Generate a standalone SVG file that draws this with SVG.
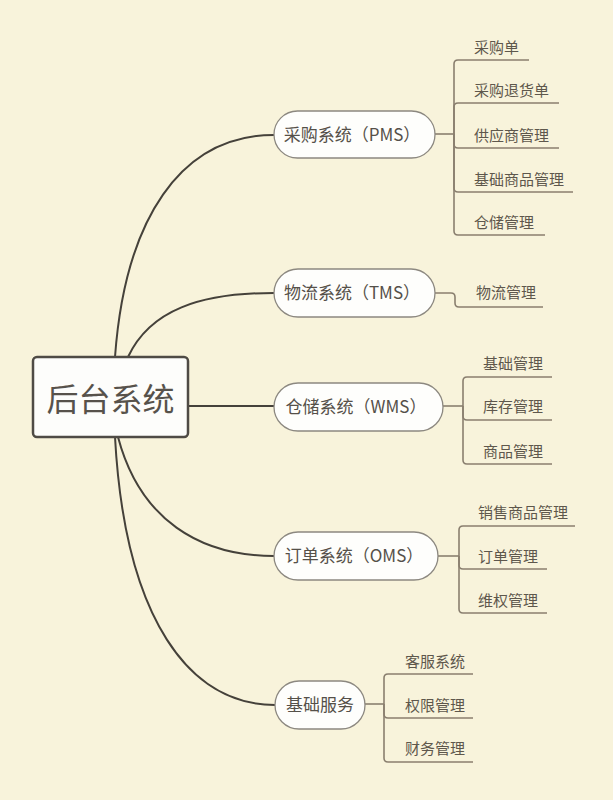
<svg xmlns="http://www.w3.org/2000/svg" width="613" height="800" viewBox="0 0 613 800">
<style>
.main{fill:none;stroke:#45413a;stroke-width:2}
.br{fill:none;stroke:#8a7f6f;stroke-width:1.6}
.pill{fill:#fefefc;stroke:#8c8880;stroke-width:1.3}
.nt{font-family:"Noto Sans CJK TC","Noto Sans CJK SC","Noto Sans",sans-serif;font-size:17px;fill:#555049;text-anchor:middle}
.ct{font-family:"Noto Sans CJK SC","Noto Sans",sans-serif;font-size:15px;fill:#5e574c}
</style>
<rect x="0" y="0" width="613" height="800" fill="#f8f3db"/>
<g id="connectors">
<path class="main" d="M115,357 C125,220 180,135 274,135"/>
<path class="main" d="M128,357 C150,310 200,293 274,293"/>
<path class="main" d="M189,406 H274"/>
<path class="main" d="M118,437 C140,520 200,556 274,556"/>
<path class="main" d="M115,437 C125,620 190,705 275,705"/>
<path class="br" d="M435,134 H454"/>
<path class="br" d="M454,134 V64 Q454,60 458,60 H529"/>
<path class="br" d="M454,134 V107 Q454,103 458,103 H559"/>
<path class="br" d="M454,134 V144 Q454,148 458,148 H559"/>
<path class="br" d="M454,134 V188 Q454,192 458,192 H573"/>
<path class="br" d="M454,134 V231 Q454,235 458,235 H545"/>
<path class="br" d="M435,293 H451 Q455,293 455,297 V303 Q455,307 459,307 H543"/>
<path class="br" d="M443,406 H463"/>
<path class="br" d="M463,406 V381 Q463,377 467,377 H552"/>
<path class="br" d="M463,406 V416 Q463,420 467,420 H552"/>
<path class="br" d="M463,406 V460 Q463,464 467,464 H552"/>
<path class="br" d="M438,556 H459"/>
<path class="br" d="M459,556 V530 Q459,526 463,526 H575"/>
<path class="br" d="M459,556 V565 Q459,569 463,569 H547"/>
<path class="br" d="M459,556 V609 Q459,613 463,613 H547"/>
<path class="br" d="M365,704 H384"/>
<path class="br" d="M384,704 V678 Q384,674 388,674 H473"/>
<path class="br" d="M384,704 V714 Q384,718 388,718 H473"/>
<path class="br" d="M384,704 V758 Q384,762 388,762 H473"/>
</g>
<g id="root">
<rect x="33" y="357" width="155" height="80" rx="4" fill="#fdfdfb" stroke="#4f4b45" stroke-width="2.5"/>
<text x="110.5" y="411" style="font-family:'Noto Sans CJK SC','Noto Sans',sans-serif;font-size:32px;fill:#57524b;text-anchor:middle">后台系统</text>
</g>
<g id="pms">
<rect class="pill" x="274" y="111" width="161" height="47" rx="23.5"/>
<text class="nt" x="352" y="140.5">采购系统（PMS）</text>
</g>
<g id="tms">
<rect class="pill" x="274" y="269" width="161" height="48" rx="24"/>
<text class="nt" x="352" y="299">物流系统（TMS）</text>
</g>
<g id="wms">
<rect class="pill" x="274" y="383" width="169" height="48" rx="24"/>
<text class="nt" x="356" y="413">仓储系统（WMS）</text>
</g>
<g id="oms">
<rect class="pill" x="274" y="532" width="164" height="48" rx="24"/>
<text class="nt" x="354" y="562">订单系统（OMS）</text>
</g>
<g id="base">
<rect class="pill" x="275" y="681" width="90" height="48" rx="24"/>
<text class="nt" x="320" y="711">基础服务</text>
</g>
<g id="pms-children">
<text class="ct" x="474" y="53">采购单</text>
<text class="ct" x="474" y="96">采购退货单</text>
<text class="ct" x="474" y="141">供应商管理</text>
<text class="ct" x="474" y="185">基础商品管理</text>
<text class="ct" x="474" y="228">仓储管理</text>
</g>
<g id="tms-children">
<text class="ct" x="476" y="298">物流管理</text>
</g>
<g id="wms-children">
<text class="ct" x="483" y="369">基础管理</text>
<text class="ct" x="483" y="412">库存管理</text>
<text class="ct" x="483" y="457">商品管理</text>
</g>
<g id="oms-children">
<text class="ct" x="478" y="518">销售商品管理</text>
<text class="ct" x="478" y="562">订单管理</text>
<text class="ct" x="478" y="606">维权管理</text>
</g>
<g id="base-children">
<text class="ct" x="405" y="667">客服系统</text>
<text class="ct" x="405" y="711">权限管理</text>
<text class="ct" x="405" y="754">财务管理</text>
</g>
</svg>
